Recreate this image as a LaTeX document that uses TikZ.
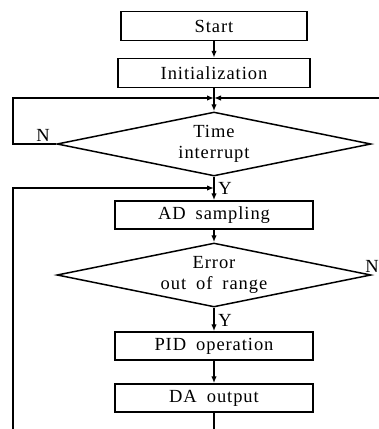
\documentclass[tikz,border=0pt]{standalone}
\usepackage{fontspec}
\setmainfont{Liberation Serif}[LetterSpace=5,WordSpace=1.8]
\usetikzlibrary{shapes.geometric,arrows.meta}
\begin{document}
\begin{tikzpicture}[x=1pt,y=-1pt,
  every node/.style={font=\fontsize{18.5}{21}\selectfont},
  box/.style={draw,line width=1.5pt,inner sep=0pt,minimum height=29pt},
  dec/.style={draw,line width=1.5pt,shape=diamond,aspect=4.9,inner sep=0pt,minimum width=314pt,minimum height=64pt,align=center},
  lbl/.style={inner sep=0pt},
  flow/.style={line width=1.4pt},
  arr/.style={flow,-{Latex[length=7pt,width=5.5pt]}}]
\useasboundingbox (0,0) rectangle (379,429);
\clip (0,0) rectangle (379,429);
\node[box,minimum width=186pt] (start) at (214,26) {Start};
\node[box,minimum width=192pt] (init) at (214,73) {Initialization};
\coordinate (j1) at (214,98);
\node[dec] (d1) at (214,144) {Time\\interrupt};
\coordinate (j2) at (214,188);
\node[box,minimum width=198pt,minimum height=28pt] (ad) at (214,215) {AD sampling};
\node[dec] (d2) at (214,275) {Error\\out of range};
\node[box,minimum width=198pt,minimum height=28pt] (pid) at (214,346) {PID operation};
\node[box,minimum width=198pt,minimum height=28pt] (da) at (214,398) {DA output};
\coordinate (rin) at (385,98);
\coordinate (lbot) at (13,435);
\coordinate (dbot) at (214,435);
\node[lbl] (nl) at (43,135) {N};
\node[lbl] (nr) at (372,266) {N};
\node[lbl] (y1) at (225,188) {Y};
\node[lbl] (y2) at (225,320) {Y};
\draw[arr] (start) -- (init);
\draw[flow] (init) -- (j1);
\draw[arr] (j1) -- (d1.north);
\draw[arr] (d1.west) -- (13,144) -- (13,98) -- (j1);
\draw[arr] (rin) -- (j1);
\draw[flow] (d1.south) -- (j2);
\draw[arr] (j2) -- (ad);
\draw[arr] (lbot) -- (13,188) -- (j2);
\draw[arr] (ad) -- (d2.north);
\draw[arr] (d2.south) -- (pid);
\draw[arr] (pid) -- (da);
\draw[flow] (da) -- (dbot);
\end{tikzpicture}
\end{document}
